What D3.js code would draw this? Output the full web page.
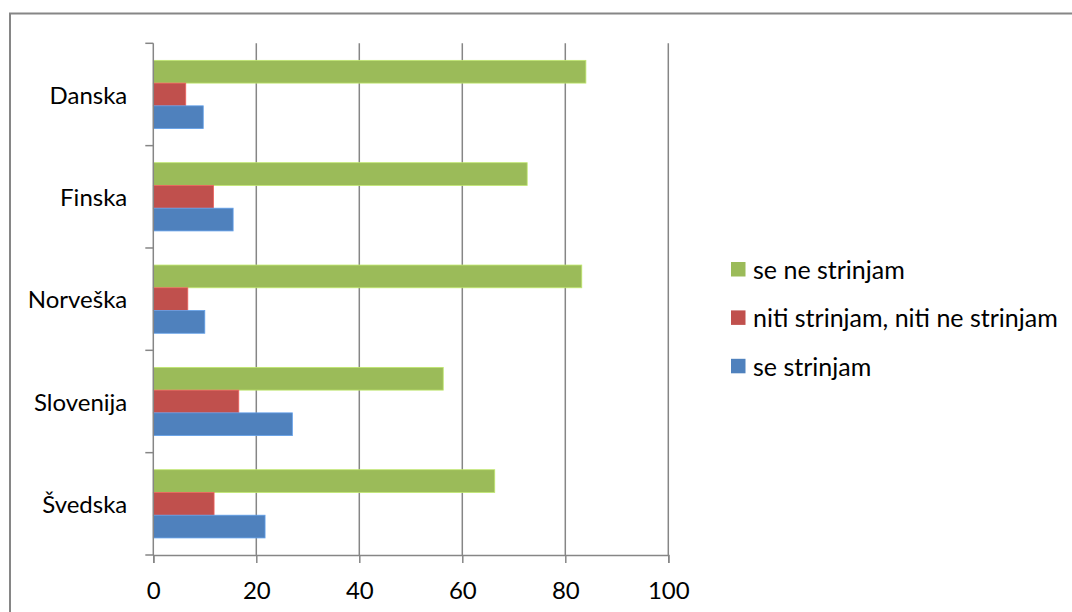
<!DOCTYPE html>
<html>
<head>
<meta charset="utf-8">
<script src="https://cdn.jsdelivr.net/npm/d3@7"></script>
<style>
  html, body { margin: 0; padding: 0; background: #fff; }
  svg { display: block; font-family: Lato, "Open Sans", sans-serif; }
</style>
</head>
<body>
<svg id="chart" width="1072" height="612"></svg>
<script>
// Survey answers by country (percent)
const countries = ["Danska", "Finska", "Norveška", "Slovenija", "Švedska"];
const seriesNames = ["se ne strinjam", "niti strinjam, niti ne strinjam", "se strinjam"];
const seNeStrinjam = [84.0, 72.6, 83.2, 56.3, 66.3];
const nitiNiti = [6.3, 11.7, 6.7, 16.6, 11.8];
const seStrinjam = [9.7, 15.5, 10.0, 27.0, 21.7];
const xTicks = [0, 20, 40, 60, 80, 100];
const colors = ["#9BBB59", "#C0504D", "#4F81BD"];

const seriesValues = [seNeStrinjam, nitiNiti, seStrinjam];

const svg = d3.select("#chart");

// outer chart frame
svg.append("rect")
  .attr("x", 10).attr("y", 13.5)
  .attr("width", 1100).attr("height", 700)
  .attr("fill", "none")
  .attr("stroke", "#868686")
  .attr("stroke-width", 2);

const plot = { left: 153.3, right: 668.3, top: 43.3, bottom: 555 };

const x = d3.scaleLinear().domain([0, 100]).range([plot.left, plot.right]);
const y = d3.scaleBand().domain(countries).range([plot.top, plot.bottom]).paddingInner(0).paddingOuter(0);
// 150% gap between groups: each bar is band / 4.5
const inner = d3.scaleBand().domain(seriesNames).range([0, y.bandwidth()]).paddingInner(0).paddingOuter(0.75);

const gridColor = "#868686";

// vertical gridlines
svg.append("g").selectAll("line")
  .data(xTicks.filter(t => t > 0))
  .join("line")
  .attr("x1", d => x(d)).attr("x2", d => x(d))
  .attr("y1", plot.top).attr("y2", plot.bottom)
  .attr("stroke", gridColor)
  .attr("stroke-width", 1.5);

// bars
const groups = svg.append("g").selectAll("g")
  .data(countries)
  .join("g")
  .attr("transform", d => `translate(0,${y(d)})`);

groups.selectAll("rect")
  .data((c, i) => seriesNames.map((s, j) => ({ s, v: seriesValues[j][i], j })))
  .join("rect")
  .attr("x", x(0))
  .attr("y", d => inner(d.s))
  .attr("width", d => x(d.v) - x(0))
  .attr("height", inner.bandwidth())
  .attr("fill", d => colors[d.j])
  .attr("stroke", d => d3.color(colors[d.j]).brighter(0.6))
  .attr("stroke-width", 0.8);

// x axis
const xAxis = svg.append("g")
  .attr("transform", `translate(0,${plot.bottom})`)
  .call(d3.axisBottom(x).tickValues(xTicks).tickSize(8).tickPadding(19).tickFormat(d3.format("d")));
xAxis.select(".domain").attr("stroke", gridColor).attr("stroke-width", 1.5);
xAxis.selectAll(".tick line").attr("stroke", gridColor).attr("stroke-width", 1.5);
xAxis.selectAll("text")
  .attr("font-family", "Lato, sans-serif")
  .attr("font-size", 24)
  .attr("fill", "#000")
  .attr("dy", "0.71em");

// y axis: ticks at group boundaries
const yAxis = svg.append("g").attr("transform", `translate(${plot.left},0)`);
const boundaries = countries.map(c => y(c)).concat([plot.bottom]);
yAxis.append("line")
  .attr("x1", 0).attr("x2", 0)
  .attr("y1", plot.top).attr("y2", plot.bottom)
  .attr("stroke", gridColor).attr("stroke-width", 1.5);
yAxis.selectAll("line.tick")
  .data(boundaries)
  .join("line")
  .attr("class", "tick")
  .attr("x1", -8).attr("x2", 0)
  .attr("y1", d => d).attr("y2", d => d)
  .attr("stroke", gridColor).attr("stroke-width", 1.5);
yAxis.selectAll("text")
  .data(countries)
  .join("text")
  .attr("x", 127.3 - plot.left)
  .attr("y", d => y(d) + y.bandwidth() / 2)
  .attr("dy", "0.38em")
  .attr("text-anchor", "end")
  .attr("font-size", 24)
  .attr("fill", "#000")
  .text(d => d);

// legend
const legend = svg.append("g").attr("transform", "translate(731,262)");
const li = legend.selectAll("g")
  .data(seriesNames)
  .join("g")
  .attr("transform", (d, i) => `translate(0,${i * 48.4})`);
li.append("rect")
  .attr("width", 14.5).attr("height", 14.5)
  .attr("fill", (d, i) => colors[i]);
li.append("text")
  .attr("x", 22)
  .attr("y", 7.5)
  .attr("dy", "0.38em")
  .attr("font-size", 25)
  .attr("fill", "#000")
  .text(d => d);
</script>
</body>
</html>
